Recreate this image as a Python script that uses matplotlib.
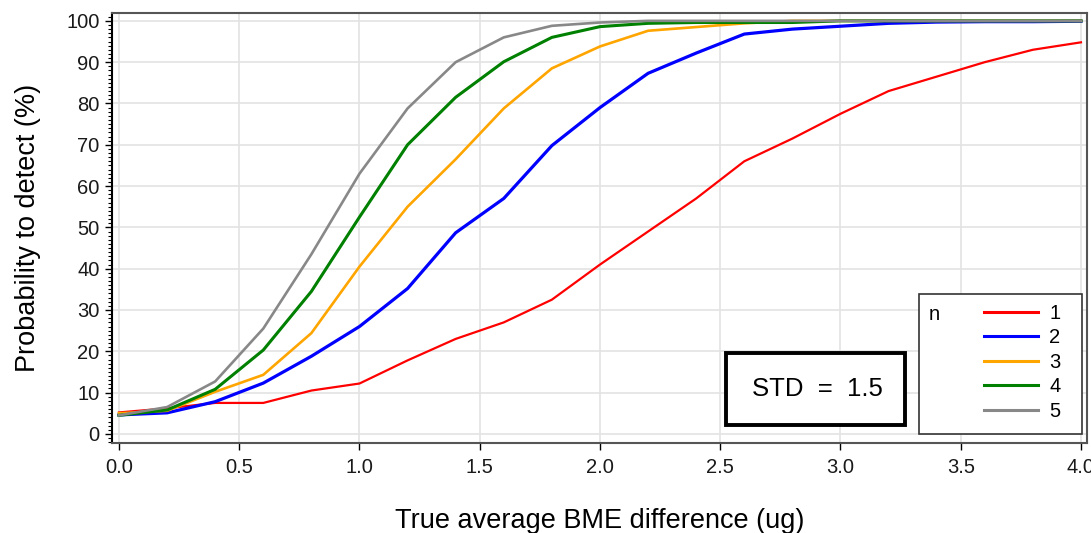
import matplotlib
matplotlib.use("Agg")
import matplotlib.pyplot as plt
from matplotlib.patches import Rectangle
from matplotlib.ticker import MultipleLocator, FormatStrFormatter

plt.rcParams["font.family"] = ["Liberation Sans", "DejaVu Sans"]

# true average BME difference (ug)
diff = [0.0, 0.2, 0.4, 0.6, 0.8, 1.0, 1.2, 1.4, 1.6, 1.8, 2.0,
        2.2, 2.4, 2.6, 2.8, 3.0, 3.2, 3.4, 3.6, 3.8, 4.0]

# probability to detect (%) per sample size n
prob_n1 = [5.2, 6.2, 7.5, 7.5, 10.5, 12.2, 17.8, 23.0, 27.0, 32.5, 41.0,
           49.0, 57.0, 66.0, 71.5, 77.5, 83.0, 86.5, 90.0, 93.0, 94.8]
prob_n2 = [4.6, 5.1, 7.8, 12.3, 18.8, 26.0, 35.2, 48.7, 57.0, 69.8, 79.0,
           87.3, 92.2, 96.8, 98.0, 98.7, 99.4, 99.7, 99.8, 99.8, 99.9]
prob_n3 = [5.0, 5.6, 10.2, 14.3, 24.4, 40.5, 55.0, 66.5, 78.8, 88.5, 93.8,
           97.6, 98.5, 99.4, 100, 100, 100, 100, 100, 100, 100]
prob_n4 = [4.5, 5.8, 10.8, 20.3, 34.5, 52.5, 70.0, 81.5, 90.1, 96.0, 98.6,
           99.4, 99.6, 99.6, 99.6, 100, 100, 100, 100, 100, 100]
prob_n5 = [4.5, 6.5, 12.7, 25.5, 43.5, 63.0, 78.8, 90.0, 96.0, 98.8, 99.6,
           100, 100, 100, 100, 100, 100, 100, 100, 100, 100]

series_labels = ["1", "2", "3", "4", "5"]
series_colors = ["#ff0000", "#0000ff", "#ffa500", "#008000", "#888888"]
series_widths = [1.6, 2.3, 1.9, 2.2, 1.9]
std_value = 1.5

W, H = 1091, 533


def fx(px):
    return px / W


def fy(py):
    return 1 - py / H


fig = plt.figure(figsize=(W / 100, H / 100), dpi=100)
ax = fig.add_axes([fx(112), fy(443), fx(1087) - fx(112), fy(13) - fy(443)])

series = [prob_n1, prob_n2, prob_n3, prob_n4, prob_n5]
handles = []
for vals, lab, col, lw in zip(series, series_labels, series_colors, series_widths):
    line, = ax.plot(diff, vals, color=col, lw=lw, label=lab, zorder=3)
    handles.append(line)

ax.set_xlim(-0.029, 4.025)
ax.set_ylim(-2.2, 101.9)
ax.xaxis.set_major_locator(MultipleLocator(0.5))
ax.xaxis.set_major_formatter(FormatStrFormatter("%.1f"))
ax.yaxis.set_major_locator(MultipleLocator(10))
ax.yaxis.set_minor_locator(MultipleLocator(1))
ax.grid(True, which="major", color="#e3e3e3", lw=1.2, zorder=0)

ax.tick_params(axis="both", which="major", labelsize=14.5, length=5, width=1,
               color="black", labelcolor="#1a1a1a")
ax.tick_params(axis="x", pad=6)
ax.tick_params(axis="y", pad=4)
ax.tick_params(axis="y", which="minor", length=3, width=0.8)
for side in ["top", "right", "bottom"]:
    ax.spines[side].set_color("#555555")
ax.spines["left"].set_color("black")
for s in ax.spines.values():
    s.set_linewidth(1.5)

ax.set_xlabel("True average BME difference (ug)", fontsize=19.5, labelpad=22)
ax.set_ylabel("Probability to detect (%)", fontsize=19.5, labelpad=18)

# STD annotation box
ax.add_patch(Rectangle((fx(726), fy(425)), fx(905) - fx(726), fy(353) - fy(425),
                       transform=fig.transFigure, facecolor="white",
                       edgecolor="black", lw=2.8, zorder=6, clip_on=False))
fig.text(fx(817), fy(389), f"STD  =  {std_value}", fontsize=18.5,
         ha="center", va="center", zorder=7)

# legend: frame and "n" drawn separately so the title sits beside the entries
ax.add_patch(Rectangle((fx(919), fy(434)), fx(1082) - fx(919), fy(294) - fy(434),
                       transform=fig.transFigure, facecolor="white",
                       edgecolor="#333333", lw=1.2, zorder=6, clip_on=False))
fig.text(fx(929), fy(314), "n", fontsize=14.5, ha="left", va="center", zorder=7)
leg = ax.legend(handles=handles, labels=series_labels, loc="upper left",
                bbox_to_anchor=(fx(984), fy(304)), bbox_transform=fig.transFigure,
                frameon=False, borderpad=0, borderaxespad=0, fontsize=14.5,
                handlelength=2.7, handletextpad=0.55, labelspacing=0.27)
leg.set_zorder(8)
for h in leg.legend_handles:
    h.set_linewidth(2.2)

fig.savefig("out.png", dpi=100)
